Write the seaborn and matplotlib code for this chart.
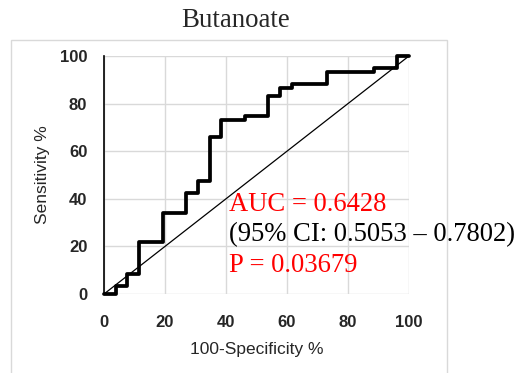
import matplotlib
matplotlib.use("Agg")
import matplotlib.pyplot as plt
import seaborn as sns
from matplotlib.patches import Rectangle

# ROC corner points (100-specificity %, sensitivity %)
fpr = [0, 3.8, 7.7, 11.5, 19.2, 26.9, 30.8, 34.6, 38.5, 46.2, 53.8, 57.7, 61.5, 73.1, 88.5, 96.2, 100]
tpr = [0, 3.4, 8.5, 22.0, 33.9, 42.4, 47.5, 66.1, 72.9, 74.6, 83.1, 86.4, 88.1, 93.2, 94.9, 100, 100]
ref_x = [0, 100]
ref_y = [0, 100]
ticks = [0, 20, 40, 60, 80, 100]

title = "Butanoate"
auc_txt = "AUC = 0.6428"
ci_txt = "(95% CI: 0.5053 \u2013 0.7802)"
p_txt = "P = 0.03679"

sns.set_style("white")
plt.rcParams["font.family"] = ["Liberation Sans", "DejaVu Sans"]

fig = plt.figure(figsize=(5.24, 3.73), dpi=100)
ax = fig.add_axes([0.1985, 0.2118, 0.582, 0.6381])

# light grey frame around the chart area
fig.patches.append(Rectangle((11 / 524, -0.02), 436 / 524, 1 - 40 / 373 + 0.02,
                             transform=fig.transFigure, fill=False,
                             edgecolor="#d9d9d9", lw=1.0))

sns.lineplot(x=ref_x, y=ref_y, ax=ax, color="black", lw=0.9, estimator=None)
sns.lineplot(x=fpr, y=tpr, ax=ax, color="black", lw=2.7, estimator=None,
             sort=False, drawstyle="steps-post", clip_on=False)

ax.set_xlim(0, 100)
ax.set_ylim(0, 100)
ax.set_xticks(ticks)
ax.set_yticks(ticks)
ax.grid(True, color="#d9d9d9", lw=1.0)
ax.set_axisbelow(True)
for s in ["top", "right", "bottom"]:
    ax.spines[s].set_visible(False)
ax.spines["left"].set_color("black")
ax.spines["left"].set_linewidth(1.2)

ax.tick_params(axis="both", length=0, labelsize=12)
ax.tick_params(axis="x", pad=15)
ax.tick_params(axis="y", pad=12)
for lab in ax.get_xticklabels() + ax.get_yticklabels():
    lab.set_fontweight("bold")

ax.set_xlabel("100-Specificity %", fontsize=12.5, labelpad=9)
ax.set_ylabel("Sensitivity %", fontsize=12.5, labelpad=7)

serif = ["Liberation Serif", "DejaVu Serif"]
ax.text(41.0, 37.8, auc_txt, color="red", fontsize=19.2, family=serif, va="center")
ax.text(41.0, 24.8, ci_txt, color="black", fontsize=19.2, family=serif, va="center")
ax.text(41.0, 11.8, p_txt, color="red", fontsize=19.2, family=serif, va="center")

fig.text(236 / 524, 1 - 27 / 373, title, ha="center", va="baseline",
         fontsize=19.4, family=serif)

fig.savefig("out.png", dpi=100)
